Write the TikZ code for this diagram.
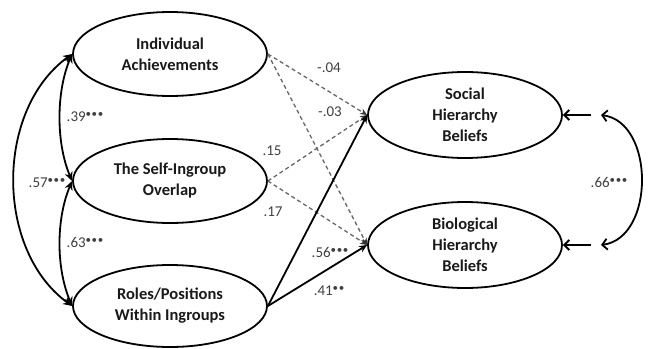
\documentclass[tikz,border=0pt]{standalone}
\usepackage{fontspec}
\setmainfont{Carlito}
\usetikzlibrary{shapes.geometric,arrows.meta}

% significance markers: small raised bullets after a coefficient
\newcommand\sigdots[1]{\raisebox{0.22em}{\fontsize{11}{11}\selectfont #1}}
\newcommand\pthree{\sigdots{\textbullet\kern0.05em\textbullet\kern0.05em\textbullet}}
\newcommand\ptwo{\sigdots{\textbullet\kern0.05em\textbullet}}

\begin{document}
\begin{tikzpicture}[x=1pt,y=-1pt,
  latent/.style={ellipse, draw, line width=1.8pt, minimum width=194pt,
    minimum height=84pt, inner sep=0pt, align=center,
    font=\fontsize{16.5}{21}\selectfont\bfseries, text=black!90},
  nspath/.style={draw=black!60, line width=1.3pt, dash pattern=on 4pt off 3pt,
    -{Stealth[length=7pt,width=6pt,color=black!80]}},
  sgpath/.style={line width=1.8pt, -{Stealth[length=8pt,width=7pt]}},
  cov/.style={line width=1.8pt, {Stealth[length=9pt,width=8pt]}-{Stealth[length=9pt,width=8pt]}},
  res/.style={line width=2pt, -{Straight Barb[length=5pt,width=10pt]}},
  rcov/.style={line width=1.8pt, {Straight Barb[length=5pt,width=11pt]}-{Straight Barb[length=5pt,width=11pt]}},
  coef/.style={font=\fontsize{15}{18}\selectfont, text=black!75, inner sep=0pt, anchor=base}]

\useasboundingbox (0,0) rectangle (650,348);

% latent variables
\node[latent] (ia) at (170,54)  {Individual\\Achievements};
\node[latent] (si) at (170,181) {The Self-Ingroup\\Overlap};
\node[latent, minimum height=82pt] (rp) at (170,306) {Roles/Positions\\Within Ingroups};
\node[latent, minimum height=86pt] (shb) at (465,115) {Social\\Hierarchy\\Beliefs};
\node[latent, minimum height=86pt] (bhb) at (465,245) {Biological\\Hierarchy\\Beliefs};

% non-significant paths
\draw[nspath] (ia.east) -- (shb.west);
\draw[nspath] (ia.east) -- (bhb.west);
\draw[nspath] (si.east) -- (shb.west);
\draw[nspath] (si.east) -- (bhb.west);

% significant paths
\draw[sgpath] (rp.east) -- (shb.west);
\draw[sgpath] (rp.east) -- (bhb.west);

% correlations among predictors
\draw[cov] (ia.west) .. controls (-5,110) and (-5,250) .. (rp.west);
\draw[cov] (ia.west) .. controls (56,92) and (56,143) .. (si.west);
\draw[cov] (si.west) .. controls (56,219) and (56,268) .. (rp.west);

% residuals and their correlation
\coordinate (e1) at (591,115);
\coordinate (e2) at (591,245);
\coordinate (r1) at (601,115);
\coordinate (r2) at (601,245);
\draw[res] (e1) -- (shb.east);
\draw[res] (e2) -- (bhb.east);
\draw[rcov] (r1) .. controls (655,122) and (655,238) .. (r2);

% coefficients
\node[coef] (c39) at (85,121)  {.39\pthree};
\node[coef] (c57) at (47,187)  {.57\pthree};
\node[coef] (c63) at (85,247)  {.63\pthree};
\node[coef] (c04) at (329,72)  {-.04};
\node[coef] (c03) at (330,116) {-.03};
\node[coef] (c15) at (272,155) {.15};
\node[coef] (c17) at (273,216) {.17};
\node[coef] (c56) at (330,257) {.56\pthree};
\node[coef] (c41) at (329,295) {.41\ptwo};
\node[coef] (c66) at (609,187) {.66\pthree};
\end{tikzpicture}
\end{document}
